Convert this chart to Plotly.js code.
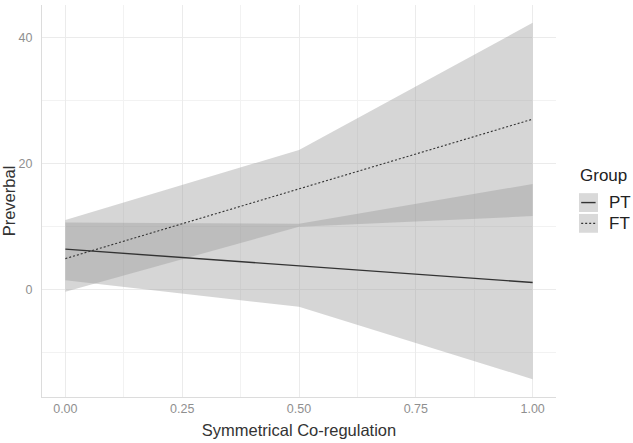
<!DOCTYPE html>
<html lang="en">
<head>
    <meta charset="UTF-8">
    <title>Preverbal by Symmetrical Co-regulation</title>
    <script src="https://cdn.plot.ly/plotly-3.0.1.min.js"></script>
    <style>
        body { margin: 0; background: #fff; }
        #chart { width: 633px; height: 443px; }
    </style>
</head>
<body>
    <div id="chart"></div>
    <script>
        // values
        const coReg = [0, 0.5, 1];
        const ptFit = [6.35, 3.7, 1.05];
        const ptLow = [1.4, -2.8, -14.3];
        const ptHigh = [10.6, 10.4, 16.7];
        const ftFit = [4.85, 15.9, 27.0];
        const ftLow = [-0.4, 9.9, 11.6];
        const ftHigh = [11.0, 22.1, 42.3];
        const groups = ["PT", "FT"];
        const xTicks = [0, 0.25, 0.5, 0.75, 1];
        const xTickText = ["0.00", "0.25", "0.50", "0.75", "1.00"];
        const yTicks = [0, 20, 40];

        const bandFill = "rgba(153,153,153,0.4)";
        const ink = "#333333";
        const dotted = "2px,2px";

        function band(lo, hi) {
            return [
                { x: coReg, y: lo, mode: "lines", line: { width: 0 }, showlegend: false, hoverinfo: "skip" },
                { x: coReg, y: hi, mode: "lines", line: { width: 0 }, fill: "tonexty", fillcolor: bandFill, showlegend: false, hoverinfo: "skip" }
            ];
        }

        const traces = [
            ...band(ptLow, ptHigh),
            ...band(ftLow, ftHigh),
            { x: coReg, y: ptFit, mode: "lines", name: groups[0], line: { color: ink, width: 1.4 }, showlegend: false },
            { x: coReg, y: ftFit, mode: "lines", name: groups[1], line: { color: ink, width: 1.1, dash: dotted }, showlegend: false }
        ];

        // hand-built legend in the ggplot style (key box + line)
        const keyShapes = [];
        const keyNotes = [{
            xref: "paper", yref: "paper", x: 1.042, y: 0.566, xanchor: "left", yanchor: "middle",
            text: "Group", showarrow: false, font: { size: 17, color: "#222" }
        }];
        const keyRows = [[0.520, 0.472, "solid"], [0.467, 0.419, dotted]];
        keyRows.forEach(function (r, i) {
            const mid = (r[0] + r[1]) / 2;
            keyShapes.push({ type: "rect", xref: "paper", yref: "paper", x0: 1.0447, x1: 1.0817, y0: r[1], y1: r[0],
                fillcolor: "#d9d9d9", line: { width: 0 }, layer: "above" });
            keyShapes.push({ type: "line", xref: "paper", yref: "paper", x0: 1.049, x1: 1.077, y0: mid, y1: mid,
                line: { color: ink, width: r[2] == "solid" ? 1.4 : 1.1, dash: r[2] }, layer: "above" });
            keyNotes.push({ xref: "paper", yref: "paper", x: 1.1, y: mid, xanchor: "left", yanchor: "middle",
                text: groups[i], showarrow: false, font: { size: 17, color: "#222" } });
        });

        const layout = {
            width: 633,
            height: 443,
            margin: { l: 42, r: 77, t: 5, b: 46 },
            paper_bgcolor: "#fff",
            plot_bgcolor: "#fff",
            font: { family: "Arial, 'Liberation Sans', sans-serif", color: "#333" },
            showlegend: false,
            xaxis: {
                range: [-0.05, 1.05],
                tickvals: xTicks,
                ticktext: xTickText,
                ticks: "",
                tickfont: { size: 12.5, color: "#8f8f8f" },
                showgrid: true,
                gridcolor: "#ebebeb",
                minor: { dtick: 0.125, tick0: 0, showgrid: true, gridcolor: "#f2f2f2" },
                zeroline: false,
                showline: true,
                linecolor: "#dcdcdc",
                title: { text: "Symmetrical Co-regulation", font: { size: 16.5, color: "#333" }, standoff: 9 }
            },
            yaxis: {
                range: [-17.13, 45.13],
                tickvals: yTicks,
                ticks: "",
                ticklabelstandoff: 6,
                tickfont: { size: 12.5, color: "#8f8f8f" },
                showgrid: true,
                gridcolor: "#ebebeb",
                minor: { dtick: 10, tick0: 0, showgrid: true, gridcolor: "#f2f2f2" },
                zeroline: false,
                showline: true,
                linecolor: "#dcdcdc",
                title: { text: "Preverbal", font: { size: 16.5, color: "#333" }, standoff: 4 }
            },
            shapes: keyShapes,
            annotations: keyNotes
        };

        Plotly.newPlot("chart", traces, layout, { displayModeBar: false, staticPlot: true });
    </script>
</body>
</html>
